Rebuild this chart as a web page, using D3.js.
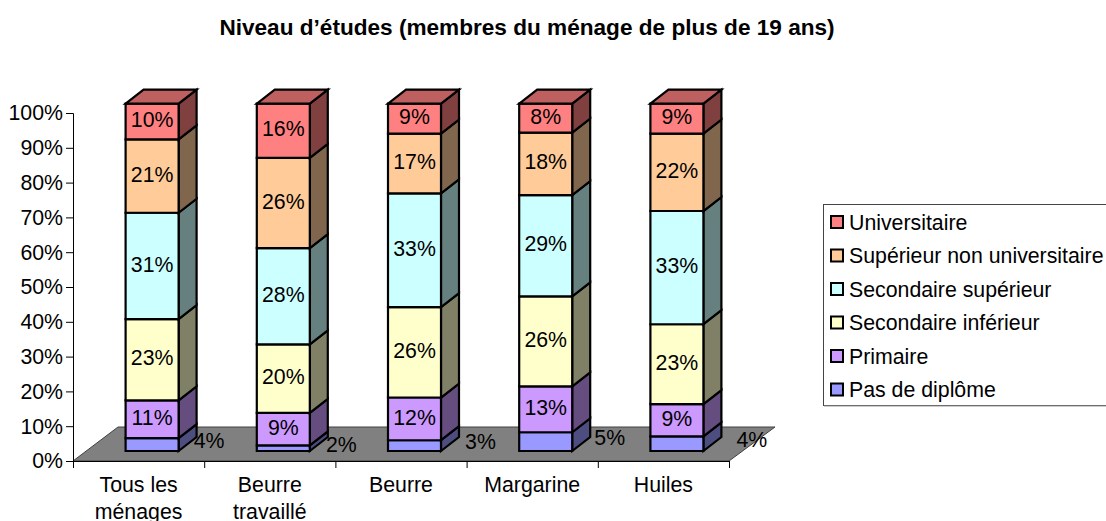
<!DOCTYPE html>
<html><head><meta charset="utf-8">
<script src="https://cdn.jsdelivr.net/npm/d3@7/dist/d3.min.js"></script>
<style>html,body{margin:0;padding:0;background:#fff;overflow:hidden}
svg{display:block}text{font-family:"Liberation Sans",Arial,sans-serif;fill:#000}</style>
</head><body><svg id="c" width="1106" height="521"></svg>
<script>
const titleText = "Niveau d’études (membres du ménage de plus de 19 ans)";
const categories = [["Tous les","ménages"],["Beurre","travaillé"],["Beurre"],["Margarine"],["Huiles"]];
const seriesNames = ["Pas de diplôme","Primaire","Secondaire inférieur","Secondaire supérieur","Supérieur non universitaire","Universitaire"];
const pasDeDiplome = [3.7,1.6,3.1,5.4,4.2];
const primaire = [10.9,9.4,12.3,13.2,9.3];
const secondaireInf = [23.4,19.7,26,25.9,23];
const secondaireSup = [30.6,27.7,32.8,29.2,32.6];
const superieurNonU = [21.1,26,17.2,18,22.3];
const universitaire = [10.3,15.6,8.6,8.3,8.6];
const seriesValues = [pasDeDiplome,primaire,secondaireInf,secondaireSup,superieurNonU,universitaire];
const colors = ["#9999FF","#CC99FF","#FFFFCC","#CCFFFF","#FFCC99","#FF8080"];
const outsideLabelShift = [57,58,66,64,75];

const svg = d3.select("#c");
const FS = 21.3;
const x = d3.scaleBand().domain(d3.range(categories.length)).range([73,729]);
const yAxisScale = d3.scaleLinear().domain([0,100]).range([461,113]);
const yBar = d3.scaleLinear().domain([0,100]).range([451,103.7]);
const floor = {dx:45,dy:-34}, barFront = 13.5, barW = 53, depth = {dx:18,dy:-14};

svg.append("text").attr("x",527).attr("y",35).attr("text-anchor","middle")
  .attr("font-size",22.6).attr("font-weight","bold").text(titleText);

// floor
svg.append("path").attr("fill","#808080").attr("stroke","#404040").attr("stroke-width",1)
  .attr("d",d3.line()([[73,461],[73+floor.dx,461+floor.dy],[729+floor.dx+1,461+floor.dy],[729,461]])+"Z");

// y axis
const yAxis = d3.axisLeft(yAxisScale).tickValues(d3.range(0,101,10)).tickFormat(d=>d+"%").tickSize(7).tickPadding(3);
const gy = svg.append("g").attr("transform","translate(73,0)").call(yAxis);
gy.selectAll("text").attr("font-size",FS).attr("font-family",null);
gy.selectAll("path,line").attr("stroke","#000");

// x axis
const xEdge = d3.scaleLinear().domain([0,categories.length]).range(x.range());
const xAxis = d3.axisBottom(xEdge).tickValues(d3.range(0,categories.length+1)).tickFormat("").tickSize(7);
const gx = svg.append("g").attr("transform","translate(0,461)").call(xAxis);
gx.selectAll("path,line").attr("stroke","#000");

const catG = svg.selectAll("g.cat").data(categories).join("g").attr("class","cat");
catG.each(function(lines,i){
  d3.select(this).selectAll("text").data(lines).join("text")
    .attr("x",x(i)+x.bandwidth()/2).attr("y",(d,j)=>492+j*27)
    .attr("text-anchor","middle").attr("font-size",FS).text(d=>d);
});

// bars
categories.forEach((c,i)=>{
  const x0 = x(i)+x.bandwidth()/2+barFront-barW/2, x1 = x0+barW;
  let acc = 0;
  const g = svg.append("g");
  seriesValues.forEach((vals,s)=>{
    const v = vals[i], y0 = yBar(acc), y1 = yBar(acc+v);
    acc += v;
    const base = d3.color(colors[s]);
    const dark = d3.rgb(base.r*.5,base.g*.5,base.b*.5);
    const add = (pts,fill)=>g.append("path").attr("d",d3.line()(pts)+"Z").attr("fill",fill)
      .attr("stroke","#000").attr("stroke-width",2.2).attr("stroke-linejoin","miter");
    add([[x1,y0],[x1+depth.dx,y0+depth.dy],[x1+depth.dx,y1+depth.dy],[x1,y1]],dark);
    add([[x0,y0],[x1,y0],[x1,y1],[x0,y1]],colors[s]);
    if(s===seriesValues.length-1){
      add([[x0,y1],[x1,y1],[x1+depth.dx,y1+depth.dy],[x0+depth.dx,y1+depth.dy]],d3.rgb(base.r*.75,base.g*.75,base.b*.75));
    }
  });
});
// labels
categories.forEach((c,i)=>{
  const xc = x(i)+x.bandwidth()/2+barFront;
  let acc = 0;
  seriesValues.forEach((vals,s)=>{
    const v = vals[i], ym = yBar(acc+v/2); acc += v;
    const outside = s===0;
    svg.append("text").attr("text-anchor","middle").attr("font-size",FS)
      .attr("x",outside?xc+outsideLabelShift[i]:xc).attr("y",outside?ym-4:ym-2)
      .attr("dy","0.36em").text(d3.format(".0f")(v)+"%");
  });
});

// legend
const lg = svg.append("g");
lg.append("rect").attr("x",823.5).attr("y",204.5).attr("width",300).attr("height",201)
  .attr("fill","#fff").attr("stroke","#444");
lg.append("line").attr("x1",824).attr("x2",1106).attr("y1",406).attr("y2",406).attr("stroke","#999").attr("stroke-width",1);
const rows = seriesNames.slice().reverse();
rows.forEach((n,j)=>{
  const yy = 222+j*33.5;
  lg.append("rect").attr("x",831).attr("y",yy-6).attr("width",12).attr("height",12)
    .attr("fill",colors[seriesNames.indexOf(n)]).attr("stroke","#000").attr("stroke-width",2);
  lg.append("text").attr("x",849).attr("y",yy).attr("dy","0.36em").attr("font-size",FS).text(n);
});
</script></body></html>
